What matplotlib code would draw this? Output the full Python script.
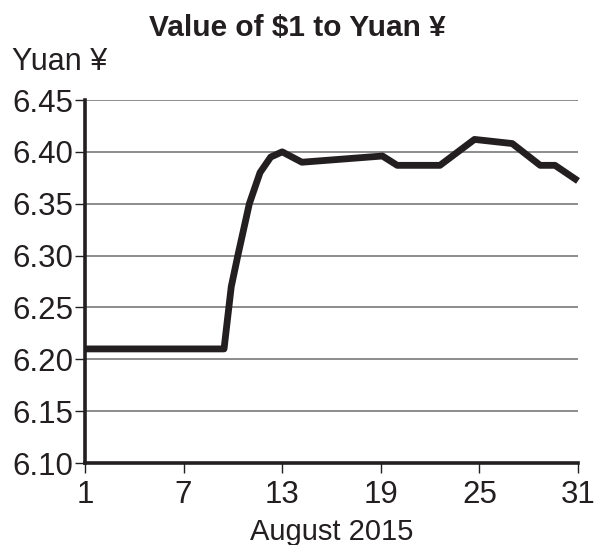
import matplotlib
matplotlib.use("Agg")
import matplotlib.pyplot as plt

days = [1, 9.46, 9.9, 10.3, 11.0, 11.65, 12.3, 13.0, 14.2, 19.1, 20.0, 22.6, 24.7, 27.0, 28.7, 29.6, 31]
yuan = [6.21, 6.21, 6.27, 6.30, 6.35, 6.38, 6.395, 6.40, 6.39, 6.396, 6.387, 6.387, 6.412, 6.408, 6.387, 6.387, 6.372]
xticks = [1, 7, 13, 19, 25, 31]
yticks = [6.10, 6.15, 6.20, 6.25, 6.30, 6.35, 6.40, 6.45]

plt.rcParams['font.family'] = ['Liberation Sans', 'DejaVu Sans']
W, H = 594, 545
fig = plt.figure(figsize=(W/100, H/100), dpi=100)
ax = fig.add_axes([85/W, 1-463/H, (578-85)/W, (463-100)/H])

for y in yticks[1:]:
    ax.axhline(y, color='#6d6d6d', lw=1.1, zorder=1)
ax.plot(days, yuan, color='#231f20', lw=4.9, solid_joinstyle='round', solid_capstyle='butt', zorder=3, clip_on=False)

ax.set_xlim(1, 31)
ax.set_ylim(6.10, 6.45)
ax.set_xticks(xticks)
ax.set_xticklabels([str(t) for t in xticks])
ax.set_yticks(yticks)
ax.set_yticklabels([f"{t:.2f}" for t in yticks])
ax.tick_params(axis='both', labelsize=22.5, length=7, width=1, color='#231f20', labelcolor='#231f20')
ax.tick_params(axis='x', pad=5)
ax.tick_params(axis='y', pad=1.5)
for s in ['top', 'right']:
    ax.spines[s].set_visible(False)
for s in ['left', 'bottom']:
    ax.spines[s].set_linewidth(2.6)
    ax.spines[s].set_color('#231f20')
ax.set_xlabel('August 2015', fontsize=21, color='#231f20', labelpad=6)
fig.text(297/W, 1-28/H, 'Value of $1 to Yuan ¥', ha='center', va='center', fontsize=21.5, fontweight='bold', color='#231f20')
fig.text(12/W, 1-62/H, 'Yuan ¥', ha='left', va='center', fontsize=22, color='#231f20')

fig.savefig('out.png', dpi=100)
